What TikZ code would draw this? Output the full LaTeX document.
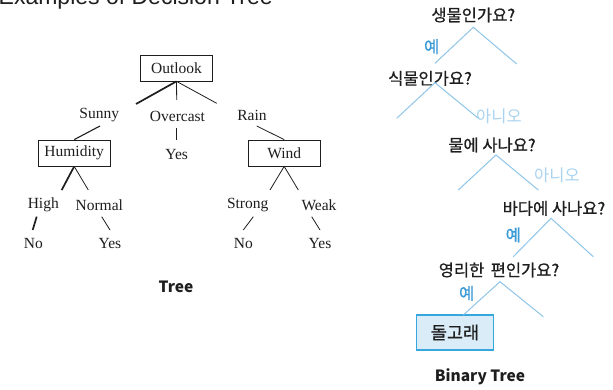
\documentclass[tikz,border=0pt]{standalone}
\usepackage{fontspec}
\setmainfont{Liberation Serif}
\newfontfamily\korfont{Noto Sans CJK KR}
\newfontfamily\kormed[FakeBold=0.7]{Noto Sans CJK KR}
\newfontfamily\headfont{Liberation Sans}
\definecolor{branch}{HTML}{8EC5E8}
\definecolor{yescol}{HTML}{3B9BD6}
\definecolor{nocol}{HTML}{A9D3EF}
\definecolor{leafdraw}{HTML}{36A6DE}
\definecolor{leaffill}{HTML}{D9ECF8}
\definecolor{ink}{HTML}{1E1E1E}
\tikzset{
  attrbox/.style={draw=ink, line width=0.8pt, minimum width=71.6pt, minimum height=25.5pt,
    inner sep=0pt, text=ink, font=\fontsize{15.5}{18}\selectfont},
  lbl/.style={inner sep=0pt, text=ink, font=\fontsize{15.5}{18}\selectfont},
  edge/.style={draw=ink, line width=0.8pt},
  thickedge/.style={draw=ink, line width=1.7pt},
  caption/.style={inner sep=0pt, text=ink, font=\korfont\bfseries\fontsize{15.5}{18}\selectfont},
  question/.style={inner sep=0pt, text=ink, font=\kormed\fontsize{16.5}{19}\selectfont},
  yeslbl/.style={inner sep=0pt, text=yescol, font=\kormed\fontsize{16.5}{19}\selectfont},
  nolbl/.style={inner sep=0pt, text=nocol, font=\korfont\fontsize{16.5}{19}\selectfont},
  blueedge/.style={draw=branch, line width=1pt},
  leafbox/.style={draw=leafdraw, fill=leaffill, line width=1.5pt, minimum width=76.6pt,
    minimum height=35pt, inner sep=0pt, text=ink, font=\kormed\fontsize{17.5}{20}\selectfont},
}
\begin{document}
\begin{tikzpicture}[x=1pt, y=-1pt]
\useasboundingbox (0,0) rectangle (613,390);
\clip (0,0) rectangle (613,390);
\fill[white] (0,0) rectangle (613,390);

% heading, mostly above the top edge
\node[anchor=base west, inner sep=0pt, text=ink, font=\headfont\fontsize{23}{27}\selectfont]
  (title) at (-1.5,4.3) {Examples of Decision Tree};

% ---------- weather tree ----------
\node[attrbox] (outlook) at (176.5,68.2) {Outlook};
\node[lbl] (sunny) at (99.3,115) {Sunny};
\node[lbl] (overcast) at (177.5,116) {Overcast};
\node[lbl] (rain) at (252,115) {Rain};
\node[attrbox, minimum width=71.7pt, minimum height=26pt] (humidity) at (74.2,153) {Humidity};
\node[lbl] (yesO) at (176.7,155) {Yes};
\node[attrbox, minimum width=71.7pt, minimum height=26pt] (wind) at (284.2,153) {Wind};
\node[lbl] (high) at (43.3,205) {High};
\node[lbl] (normal) at (99.3,205) {Normal};
\node[lbl] (strong) at (247.7,205) {Strong};
\node[lbl] (weak) at (319,205) {Weak};
\node[lbl] (noH) at (33.3,243.3) {No};
\node[lbl] (yesN) at (110,243.3) {Yes};
\node[lbl] (noS) at (243.3,243.3) {No};
\node[lbl] (yesW) at (320,243.3) {Yes};
\node[caption] (treecap) at (176,286.7) {Tree};

\coordinate (os) at (136,104);
\coordinate (oo) at (176.7,100);
\coordinate (or) at (216.7,103.3);
\coordinate (sh) at (100,126);
\coordinate (oy1) at (176.7,128.3);
\coordinate (oy2) at (176.7,140);
\coordinate (rw) at (256.7,126);
\coordinate (hh) at (61.7,190);
\coordinate (hn) at (88.3,190);
\coordinate (hn1) at (36.7,216.7);
\coordinate (hn2) at (32.7,230);
\coordinate (ny1) at (101.7,216.7);
\coordinate (ny2) at (110,230);
\coordinate (ws) at (270,190);
\coordinate (ww) at (298.3,190);
\coordinate (sn1) at (253.3,216.7);
\coordinate (sn2) at (243.3,230);
\coordinate (wy1) at (311.7,216.7);
\coordinate (wy2) at (320,230);

\draw[thickedge] (outlook.south) -- (os);
\draw[edge] (outlook.south) -- (oo);
\draw[edge] (outlook.south) -- (or);
\draw[edge, line width=1.1pt] (sh) -- (humidity.north);
\draw[edge] (oy1) -- (oy2);
\draw[edge] (rw) -- (wind.north);
\draw[thickedge] (humidity.south) -- (hh);
\draw[edge] (humidity.south) -- (hn);
\draw[thickedge] (hn1) -- (hn2);
\draw[edge] (ny1) -- (ny2);
\draw[edge] (wind.south) -- (ws);
\draw[edge] (wind.south) -- (ww);
\draw[edge] (sn1) -- (sn2);
\draw[edge] (wy1) -- (wy2);

% ---------- yes/no question tree ----------
\node[question] (q1) at (473.3,15) {생물인가요?};
\node[question] (q2) at (430,78.3) {식물인가요?};
\node[question] (q3) at (492,145) {물에 사나요?};
\node[question] (q4) at (554,208.3) {바다에 사나요?};
\node[question] (q5) at (499,270) {영리한 \,편인가요?};
\node[leafbox] (dolphin) at (455,332.5) {돌고래};
\node[caption] (bincap) at (480,376.7) {Binary Tree};

\node[yeslbl] (y1) at (431.7,46.7) {예};
\node[nolbl] (n2) at (499,116) {아니오};
\node[nolbl] (n3) at (557,175) {아니오};
\node[yeslbl] (y4) at (513.3,235) {예};
\node[yeslbl] (y5) at (466.7,293.3) {예};

\coordinate (a1) at (473.3,27.3);
\coordinate (l1) at (435,63.3);
\coordinate (r1) at (516.7,64);
\coordinate (a2) at (435,82.7);
\coordinate (l2) at (396.7,118.3);
\coordinate (r2) at (478.3,118.3);
\coordinate (a3) at (496,155);
\coordinate (l3) at (458.3,190);
\coordinate (r3) at (538.3,190);
\coordinate (a4) at (551,218.3);
\coordinate (l4) at (513.3,256.7);
\coordinate (r4) at (593.3,256.7);
\coordinate (a5) at (500,281.7);
\coordinate (l5) at (463.3,315);
\coordinate (r5) at (543.3,316.7);

\draw[blueedge] (l1) -- (a1) -- (r1);
\draw[blueedge] (l2) -- (a2) -- (r2);
\draw[blueedge] (l3) -- (a3) -- (r3);
\draw[blueedge] (l4) -- (a4) -- (r4);
\draw[blueedge] (a5) -- (r5);
\draw[blueedge] (a5) -- (l5);
\end{tikzpicture}
\end{document}
